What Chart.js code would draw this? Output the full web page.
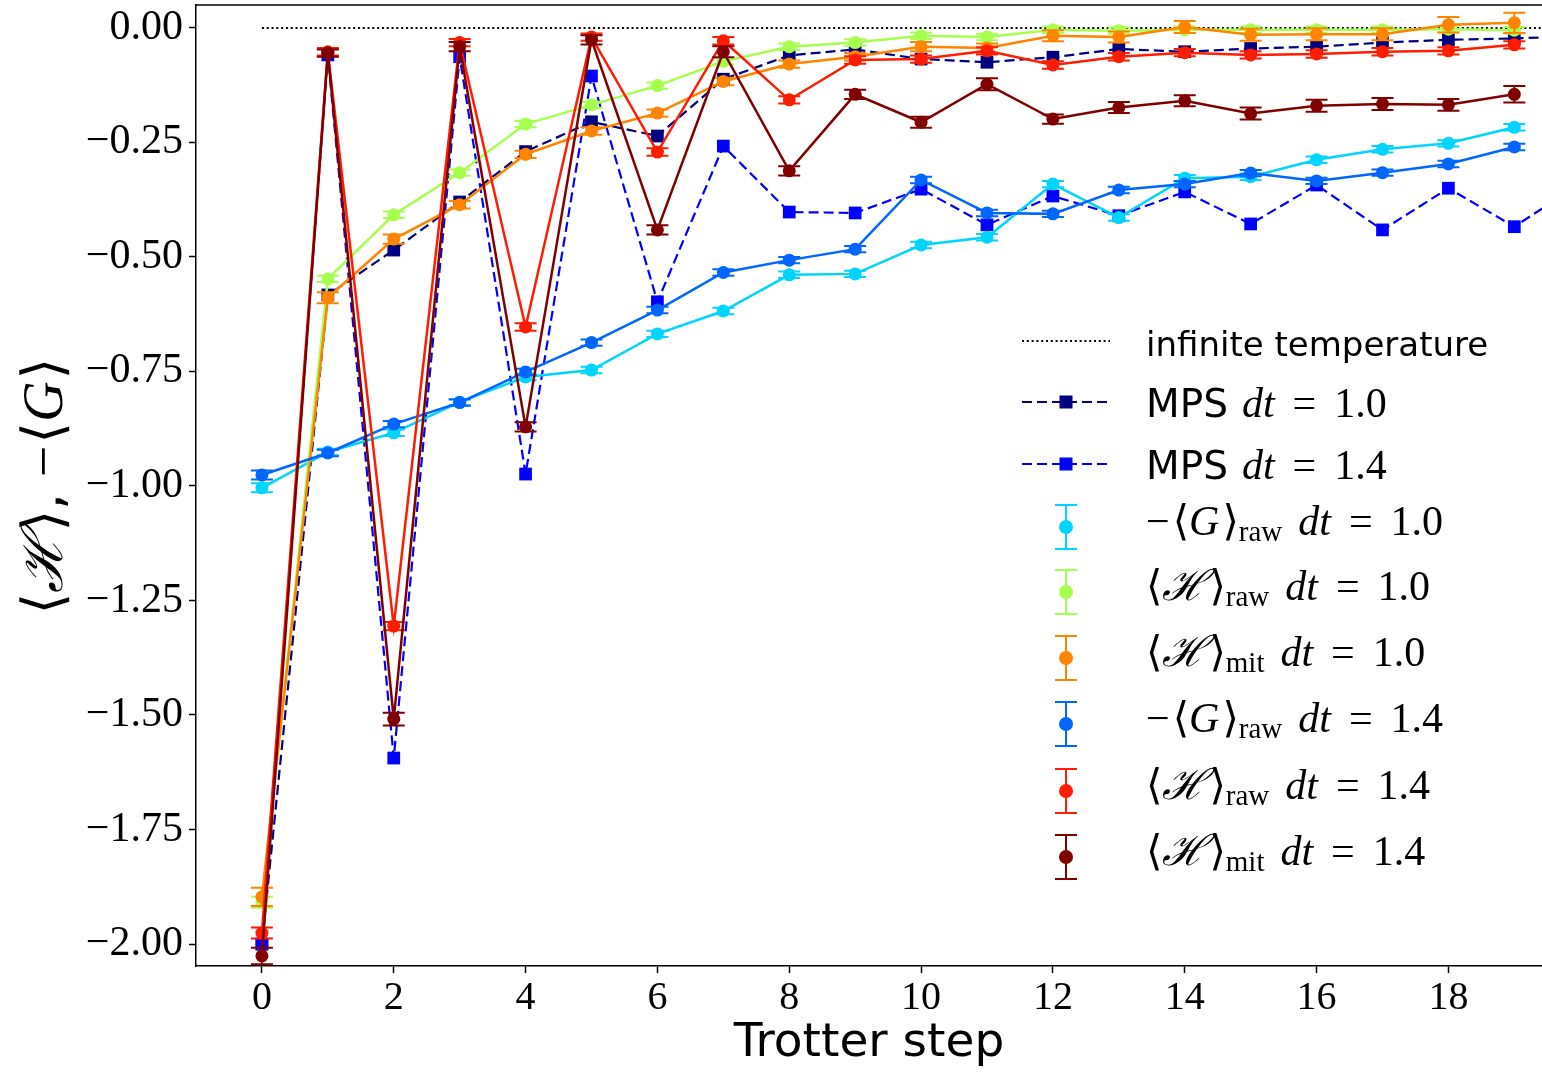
<!DOCTYPE html>
<html>
<head>
<meta charset="utf-8">
<script src="https://cdn.jsdelivr.net/npm/chart.js@4.4.1/dist/chart.umd.min.js"></script>
<style>
  html, body { margin: 0; padding: 0; background: #fff; }
  #wrap { width: 1542px; height: 1072px; position: relative; }
</style>
</head>
<body>
<div id="wrap"><canvas id="chart" width="1542" height="1072"></canvas></div>
<script>
// Trotter steps
const steps = [0, 1, 2, 3, 4, 5, 6, 7, 8, 9, 10, 11, 12, 13, 14, 15, 16, 17, 18, 19];
const mpsSteps = [0, 1, 2, 3, 4, 5, 6, 7, 8, 9, 10, 11, 12, 13, 14, 15, 16, 17, 18, 19, 20];
const xTicks = [0, 2, 4, 6, 8, 10, 12, 14, 16, 18];
const yTicks = [0, -0.25, -0.5, -0.75, -1.0, -1.25, -1.5, -1.75, -2.0];

// MPS reference curves
const mps10 = [-2.00, -0.583, -0.485, -0.380, -0.270, -0.205, -0.236, -0.112, -0.060, -0.047, -0.068,
  -0.075, -0.064, -0.046, -0.052, -0.045, -0.041, -0.032, -0.026, -0.023, -0.018];
const mps14 = [-2.00, -0.059, -1.594, -0.063, -0.974, -0.105, -0.598, -0.258, -0.402, -0.404, -0.352,
  -0.430, -0.367, -0.410, -0.358, -0.428, -0.343, -0.441, -0.350, -0.434, -0.340];

// hardware results, dt = 1.0
const gRaw10 = [-1.004, -0.926, -0.884, -0.817, -0.762, -0.747, -0.668, -0.618, -0.539, -0.537,
  -0.474, -0.457, -0.341, -0.414, -0.328, -0.325, -0.288, -0.265, -0.252, -0.217];
const gRaw10Err = [0.010, 0.007, 0.007, 0.007, 0.007, 0.007, 0.007, 0.007, 0.007, 0.007,
  0.007, 0.007, 0.007, 0.007, 0.007, 0.007, 0.007, 0.007, 0.007, 0.007];
const hRaw10 = [-1.909, -0.548, -0.408, -0.316, -0.210, -0.168, -0.126, -0.073, -0.041, -0.032,
  -0.017, -0.020, -0.004, -0.006, -0.004, -0.004, -0.004, -0.004, -0.003, -0.005];
const hRaw10Err = [0.012, 0.007, 0.007, 0.007, 0.007, 0.007, 0.007, 0.007, 0.007, 0.007,
  0.007, 0.007, 0.007, 0.007, 0.007, 0.007, 0.007, 0.007, 0.007, 0.007];
const hMit10 = [-1.897, -0.589, -0.461, -0.386, -0.276, -0.225, -0.186, -0.117, -0.079, -0.063,
  -0.041, -0.044, -0.017, -0.020, 0.002, -0.015, -0.014, -0.014, 0.007, 0.011];
const hMit10Err = [0.020, 0.012, 0.010, 0.008, 0.008, 0.008, 0.008, 0.008, 0.008, 0.008,
  0.010, 0.010, 0.012, 0.012, 0.013, 0.013, 0.013, 0.013, 0.017, 0.022];

// hardware results, dt = 1.4
const gRaw14 = [-0.976, -0.928, -0.865, -0.818, -0.751, -0.687, -0.616, -0.534, -0.507, -0.483,
  -0.332, -0.404, -0.406, -0.354, -0.341, -0.317, -0.334, -0.316, -0.297, -0.260];
const gRaw14Err = [0.010, 0.007, 0.007, 0.007, 0.007, 0.007, 0.007, 0.007, 0.007, 0.007,
  0.007, 0.007, 0.007, 0.007, 0.007, 0.007, 0.007, 0.007, 0.007, 0.007];
const hRaw14 = [-1.976, -0.052, -1.306, -0.032, -0.653, -0.020, -0.271, -0.028, -0.157, -0.070,
  -0.068, -0.050, -0.081, -0.063, -0.054, -0.059, -0.057, -0.052, -0.050, -0.037];
const hRaw14Err = [0.012, 0.008, 0.009, 0.008, 0.008, 0.008, 0.008, 0.008, 0.008, 0.008,
  0.008, 0.008, 0.008, 0.008, 0.008, 0.008, 0.008, 0.008, 0.008, 0.008];
const hMit14 = [-2.026, -0.055, -1.509, -0.041, -0.871, -0.026, -0.441, -0.052, -0.312, -0.145,
  -0.206, -0.123, -0.199, -0.174, -0.159, -0.187, -0.170, -0.166, -0.168, -0.145];
const hMit14Err = [0.018, 0.008, 0.014, 0.010, 0.010, 0.010, 0.010, 0.012, 0.010, 0.010,
  0.012, 0.013, 0.010, 0.012, 0.012, 0.013, 0.013, 0.013, 0.013, 0.018];

const SANS = '"DejaVu Sans", sans-serif';
const SERIF = '"Liberation Serif", "DejaVu Serif", serif';
const MATHSYM = '"DejaVu Serif", serif';

const toPts = (xs, ys) => xs.map((x, i) => ({ x: x, y: ys[i] }));

function errSeries(label, ys, errs, color, order) {
  return {
    label: label, data: toPts(steps, ys), errors: errs,
    borderColor: color, backgroundColor: color, borderWidth: 2.5,
    pointRadius: 6.5, pointStyle: 'circle', pointBorderWidth: 0,
    order: order
  };
}

const datasets = [
  {
    label: 'infinite temperature', data: [{ x: 0, y: 0 }, { x: 20, y: 0 }],
    borderColor: '#000', borderWidth: 2, borderDash: [2, 2.8], pointRadius: 0, order: 9
  },
  {
    label: 'MPS dt = 1.0', data: toPts(mpsSteps, mps10),
    borderColor: '#000080', backgroundColor: '#000080', borderWidth: 2.2, borderDash: [10, 5],
    pointStyle: 'rect', pointRadius: 9, pointBorderWidth: 0, order: 8
  },
  {
    label: 'MPS dt = 1.4', data: toPts(mpsSteps, mps14),
    borderColor: '#0000ff', backgroundColor: '#0000ff', borderWidth: 2.2, borderDash: [10, 5],
    pointStyle: 'rect', pointRadius: 9, pointBorderWidth: 0, order: 7
  },
  errSeries('-<G>raw dt = 1.0', gRaw10, gRaw10Err, '#00d4ff', 6),
  errSeries('<H>raw dt = 1.0', hRaw10, hRaw10Err, '#a6ff4f', 5),
  errSeries('<H>mit dt = 1.0', hMit10, hMit10Err, '#ff8400', 4),
  errSeries('-<G>raw dt = 1.4', gRaw14, gRaw14Err, '#0066ff', 3),
  errSeries('<H>raw dt = 1.4', hRaw14, hRaw14Err, '#ff1c00', 2),
  errSeries('<H>mit dt = 1.4', hMit14, hMit14Err, '#800000', 1)
];

// vertical error bars with caps, drawn just before each dataset
const errorBars = {
  id: 'errorBars',
  beforeDatasetDraw(chart, args) {
    const ds = chart.data.datasets[args.index];
    if (!ds.errors) return;
    const xs = chart.scales.x, ys = chart.scales.y, ctx = chart.ctx, a = chart.chartArea;
    ctx.save();
    ctx.beginPath();
    ctx.rect(a.left, a.top, a.right - a.left, a.bottom - a.top);
    ctx.clip();
    ctx.strokeStyle = ds.borderColor;
    ctx.lineWidth = 2;
    ds.data.forEach((p, i) => {
      const e = ds.errors[i];
      const px = xs.getPixelForValue(p.x);
      const y1 = ys.getPixelForValue(p.y + e), y2 = ys.getPixelForValue(p.y - e);
      ctx.beginPath();
      ctx.moveTo(px, y1); ctx.lineTo(px, y2);
      ctx.moveTo(px - 11, y1); ctx.lineTo(px + 11, y1);
      ctx.moveTo(px - 11, y2); ctx.lineTo(px + 11, y2);
      ctx.stroke();
    });
    ctx.restore();
  }
};

// draw a run of text pieces with their own fonts
function drawRich(ctx, x, y, segs) {
  segs.forEach(s => {
    ctx.font = s.font;
    ctx.fillText(s.t, x, y + (s.dy || 0));
    x += ctx.measureText(s.t).width + (s.gap || 0);
  });
  return x;
}
function richWidth(ctx, segs) {
  let w = 0;
  segs.forEach(s => { ctx.font = s.font; w += ctx.measureText(s.t).width + (s.gap || 0); });
  return w;
}

const M = 42, SUB = 29;
const mathTail = val => [
  { t: 'd', font: `italic ${M}px ${SERIF}`, gap: 0 },
  { t: 't', font: `italic ${M}px ${SERIF}`, gap: 18 },
  { t: '=', font: `${M}px ${SERIF}`, gap: 18 },
  { t: val, font: `${M}px ${SERIF}` }
];
const sub = t => ({ t: t, font: `${SUB}px ${SERIF}`, dy: 6, gap: 16 });
const gLabel = (val) => [
  { t: '−', font: `${M}px ${SERIF}`, gap: 3 },
  { t: '⟨', font: `${M}px ${MATHSYM}` },
  { t: 'G', font: `italic ${M}px ${SERIF}`, gap: 3 },
  { t: '⟩', font: `${M}px ${MATHSYM}` },
  sub('raw')
].concat(mathTail(val));
const hLabel = (s, val) => [
  { t: '⟨', font: `${M}px ${MATHSYM}` },
  { t: 'ℋ', font: `italic ${M}px ${MATHSYM}`, gap: 3 },
  { t: '⟩', font: `${M}px ${MATHSYM}` },
  sub(s)
].concat(mathTail(val));

const legendRows = [
  { kind: 'dot', y: 341, segs: [{ t: 'infinite temperature', font: `34px ${SANS}` }] },
  { kind: 'dash', y: 402, color: '#000080', segs: [{ t: 'MPS', font: `39px ${SANS}`, gap: 14 }].concat(mathTail('1.0')) },
  { kind: 'dash', y: 464, color: '#0000ff', segs: [{ t: 'MPS', font: `39px ${SANS}`, gap: 14 }].concat(mathTail('1.4')) },
  { kind: 'err', y: 527, color: '#00d4ff', segs: gLabel('1.0') },
  { kind: 'err', y: 592, color: '#a6ff4f', segs: hLabel('raw', '1.0') },
  { kind: 'err', y: 658, color: '#ff8400', segs: hLabel('mit', '1.0') },
  { kind: 'err', y: 724, color: '#0066ff', segs: gLabel('1.4') },
  { kind: 'err', y: 791, color: '#ff1c00', segs: hLabel('raw', '1.4') },
  { kind: 'err', y: 857, color: '#800000', segs: hLabel('mit', '1.4') }
];

const decorations = {
  id: 'decorations',
  afterDraw(chart) {
    const ctx = chart.ctx, a = chart.chartArea;
    ctx.save();
    // top spine
    ctx.strokeStyle = '#000';
    ctx.lineWidth = 1.5;
    ctx.beginPath();
    ctx.moveTo(a.left, a.top); ctx.lineTo(a.right, a.top);
    ctx.stroke();

    // legend
    ctx.fillStyle = '#000';
    ctx.textBaseline = 'alphabetic';
    ctx.textAlign = 'left';
    legendRows.forEach(r => {
      if (r.kind === 'dot') {
        ctx.strokeStyle = '#000'; ctx.lineWidth = 2; ctx.setLineDash([2, 2.8]);
        ctx.beginPath(); ctx.moveTo(1022, r.y); ctx.lineTo(1110, r.y); ctx.stroke();
        ctx.setLineDash([]);
      } else if (r.kind === 'dash') {
        ctx.strokeStyle = r.color; ctx.lineWidth = 2.2; ctx.setLineDash([10, 5]);
        ctx.beginPath(); ctx.moveTo(1022, r.y); ctx.lineTo(1110, r.y); ctx.stroke();
        ctx.setLineDash([]);
        ctx.fillStyle = r.color;
        ctx.fillRect(1066 - 6.5, r.y - 6.5, 13, 13);
      } else {
        ctx.strokeStyle = r.color; ctx.lineWidth = 2;
        ctx.beginPath();
        ctx.moveTo(1066, r.y - 22); ctx.lineTo(1066, r.y + 22);
        ctx.moveTo(1055, r.y - 22); ctx.lineTo(1077, r.y - 22);
        ctx.moveTo(1055, r.y + 22); ctx.lineTo(1077, r.y + 22);
        ctx.stroke();
        ctx.fillStyle = r.color;
        ctx.beginPath(); ctx.arc(1066, r.y, 7, 0, Math.PI * 2); ctx.fill();
      }
      ctx.fillStyle = '#000';
      const base = r.kind === 'err' ? r.y + 8 : r.y + 15;
      drawRich(ctx, 1146, base, r.segs);
    });

    // y axis title, rotated
    const ySegs = [
      { t: '⟨', font: `56px ${MATHSYM}` },
      { t: 'ℋ', font: `italic 56px ${MATHSYM}`, gap: 2 },
      { t: '⟩', font: `56px ${MATHSYM}` },
      { t: ',', font: `52px ${SANS}`, gap: 16 },
      { t: '−', font: `56px ${SERIF}`, gap: 2 },
      { t: '⟨', font: `56px ${MATHSYM}` },
      { t: 'G', font: `italic 56px ${SERIF}`, gap: 2 },
      { t: '⟩', font: `56px ${MATHSYM}` }
    ];
    const w = richWidth(ctx, ySegs);
    ctx.translate(62, 486);
    ctx.rotate(-Math.PI / 2);
    drawRich(ctx, -w / 2, 0, ySegs);
    ctx.restore();
  }
};

new Chart(document.getElementById('chart'), {
  type: 'line',
  data: { datasets: datasets },
  options: {
    responsive: false,
    devicePixelRatio: 1,
    animation: false,
    layout: { autoPadding: false, padding: { top: 5, left: 0, right: 0, bottom: 0 } },
    plugins: { legend: { display: false }, tooltip: { enabled: false } },
    scales: {
      x: {
        type: 'linear', min: -1, max: 19.42,
        afterBuildTicks: s => { s.ticks = xTicks.map(v => ({ value: v })); },
        afterFit: s => { s.height = 106; s.paddingLeft = 0; s.paddingRight = 0; },
        ticks: { color: '#000', font: { family: SERIF, size: 40 }, padding: 1, maxRotation: 0 },
        grid: { drawOnChartArea: false, tickLength: 7, tickColor: '#000', tickWidth: 1.5 },
        border: { color: '#000', width: 1.5 },
        title: { display: true, text: 'Trotter step', color: '#000', font: { family: SANS, size: 47 }, padding: { top: 0, bottom: 0 } }
      },
      y: {
        type: 'linear', min: -2.048, max: 0.050,
        afterBuildTicks: s => { s.ticks = yTicks.map(v => ({ value: v })); },
        afterFit: s => { s.width = 196; s.paddingTop = 0; s.paddingBottom = 0; },
        ticks: {
          color: '#000', font: { family: SERIF, size: 42 }, padding: 6,
          callback: v => (v < 0 ? '−' : '') + Math.abs(v).toFixed(2)
        },
        grid: { drawOnChartArea: false, tickLength: 7, tickColor: '#000', tickWidth: 1.5 },
        border: { color: '#000', width: 1.5 }
      }
    }
  },
  plugins: [errorBars, decorations]
});
</script>
</body>
</html>
